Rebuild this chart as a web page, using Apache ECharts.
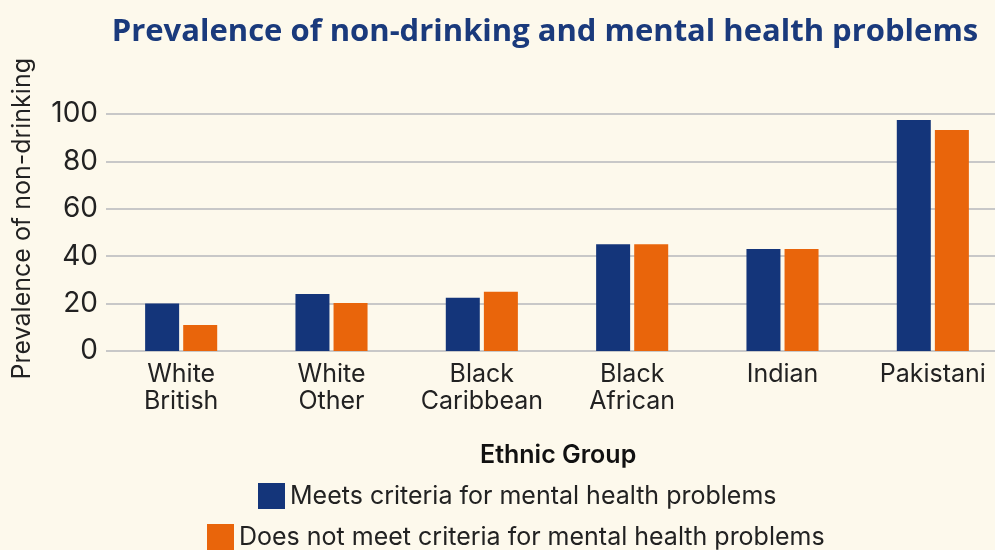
<!DOCTYPE html>
<html>
<head>
<meta charset="utf-8">
<script src="https://cdn.jsdelivr.net/npm/echarts@6/dist/echarts.min.js"></script>
<style>
  html, body { margin: 0; padding: 0; background: #fdf9ec; overflow: hidden; }
  /* plot runs past the right edge in the original, so the canvas is a bit wider than the window */
  #chart { width: 1010px; height: 550px; }
</style>
</head>
<body>
<div id="chart"></div>
<script>
var groups = ["White\nBritish", "White\nOther", "Black\nCaribbean", "Black\nAfrican", "Indian", "Pakistani"];
var meetsCriteria = [20, 24, 22.5, 45, 43, 97.5];
var notMeetCriteria = [11, 20.3, 25, 45, 43, 93.3];
var yTicks = [0, 20, 40, 60, 80, 100];

var BLUE = "#14357a";
var ORANGE = "#e9650b";
var TEXT = "#222222";
var FONT = "Inter";

var chart = echarts.init(document.getElementById("chart"));

var option = {
  backgroundColor: "#fdf9ec",
  animation: false,
  title: {
    text: "Prevalence of non-drinking and mental health problems",
    left: 540,
    top: 12,
    textAlign: "center",
    textStyle: { color: "#1a3a7c", fontFamily: "Open Sans", fontWeight: "bold", fontSize: 31 }
  },
  graphic: [
    {
      type: "text",
      left: 10,
      top: 58,
      rotation: Math.PI / 2,
      style: { text: "Prevalence of non-drinking", fill: TEXT, font: "25px " + FONT }
    },
    {
      type: "text",
      left: 480,
      top: 443,
      style: { text: "Ethnic Group", fill: "#111", font: "600 25px " + FONT }
    }
  ],
  legend: [
    {
      data: ["Meets criteria for mental health problems"],
      left: 258, top: 483, padding: 0,
      itemWidth: 27, itemHeight: 26,
      icon: "rect",
      textStyle: { color: TEXT, fontFamily: FONT, fontSize: 25, padding: 0 }
    },
    {
      data: ["Does not meet criteria for mental health problems"],
      left: 207, top: 524, padding: 0,
      itemWidth: 27, itemHeight: 26,
      icon: "rect",
      textStyle: { color: TEXT, fontFamily: FONT, fontSize: 25, padding: 0 }
    }
  ],
  grid: { left: 106, right: 2, top: 114, bottom: 199, containLabel: false },
  xAxis: {
    type: "category",
    data: groups,
    axisLine: { show: false },
    axisTick: { show: false },
    axisLabel: { interval: 0, color: TEXT, fontFamily: FONT, fontSize: 25, lineHeight: 27, margin: 10 }
  },
  yAxis: {
    type: "value",
    min: yTicks[0],
    max: yTicks[yTicks.length - 1],
    interval: 20,
    axisLine: { show: false },
    axisTick: { show: false },
    axisLabel: { color: TEXT, fontFamily: FONT, fontSize: 28, margin: 8 },
    splitLine: { lineStyle: { color: "#c8c8c8", width: 2 } }
  },
  series: [
    {
      name: "Meets criteria for mental health problems",
      type: "bar",
      data: meetsCriteria,
      barWidth: 34,
      barGap: "12%",
      itemStyle: { color: BLUE }
    },
    {
      name: "Does not meet criteria for mental health problems",
      type: "bar",
      data: notMeetCriteria,
      barWidth: 34,
      itemStyle: { color: ORANGE }
    }
  ]
};

chart.setOption(option);
</script>
</body>
</html>
